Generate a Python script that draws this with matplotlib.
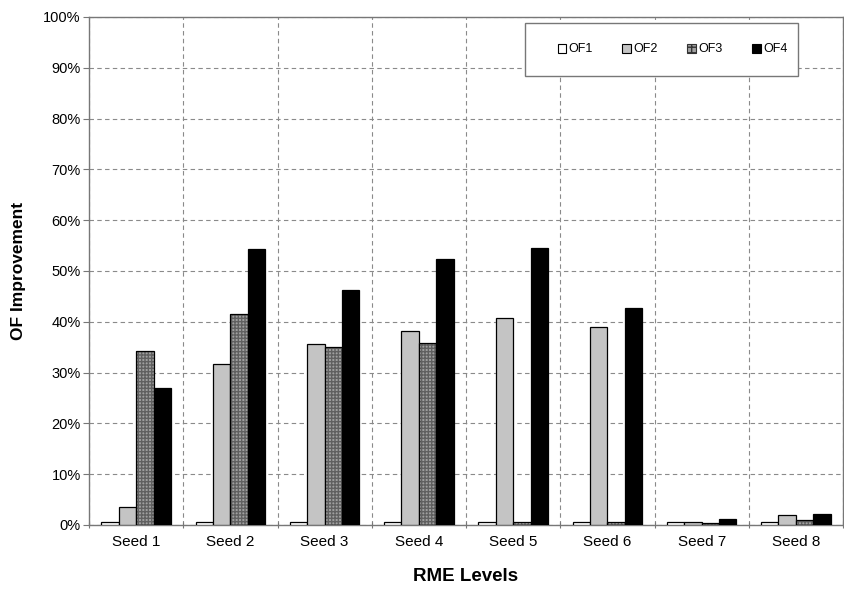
import numpy as np
import matplotlib

matplotlib.use("Agg")
import matplotlib.pyplot as plt
from matplotlib.patches import Patch, Rectangle
from matplotlib.ticker import FixedLocator, PercentFormatter

plt.rcParams["font.family"] = ["Liberation Sans", "DejaVu Sans"]

seeds = ["Seed 1", "Seed 2", "Seed 3", "Seed 4", "Seed 5", "Seed 6", "Seed 7", "Seed 8"]
of1 = [0.5, 0.5, 0.5, 0.5, 0.5, 0.5, 0.5, 0.5]
of2 = [3.5, 31.7, 35.6, 38.2, 40.7, 39.0, 0.6, 1.9]
of3 = [34.2, 41.5, 35.0, 35.8, 0.5, 0.5, 0.4, 0.9]
of4 = [27.0, 54.3, 46.3, 52.4, 54.5, 42.7, 1.1, 2.1]
series_names = ["OF1", "OF2", "OF3", "OF4"]

fig = plt.figure(figsize=(8.45, 5.92), dpi=100)
ax = fig.add_axes([89 / 845, 67 / 592, 754 / 845, 508 / 592])

x = np.arange(len(seeds))
width = 0.185
offsets = (np.arange(4) - 1.5) * width
grey = "#777777"

# OF1 white, OF2 light grey, OF3 hatched grey, OF4 black
ax.bar(x + offsets[0], of1, width, color="white", edgecolor="black", linewidth=0.9, zorder=3)
ax.bar(x + offsets[1], of2, width, color="#c4c4c4", edgecolor="black", linewidth=0.9, zorder=3)
ax.bar(x + offsets[2], of3, width, color="#a0a0a0", edgecolor="#606060", hatch="+++++",
       linewidth=0, zorder=3)
ax.bar(x + offsets[2], of3, width, color="none", edgecolor="black", linewidth=0.9, zorder=4)
ax.bar(x + offsets[3], of4, width, color="black", edgecolor="black", linewidth=0.9, zorder=3)

ax.set_xlim(-0.5, len(seeds) - 0.5)
ax.set_ylim(0, 100)
ax.yaxis.set_major_locator(FixedLocator(np.arange(0, 101, 10)))
ax.yaxis.set_major_formatter(PercentFormatter(decimals=0))

# category labels at centres, ticks and grid at the boundaries
ax.set_xticks(np.arange(len(seeds) + 1) - 0.5)
ax.set_xticklabels([])
ax.set_xticks(x, minor=True)
ax.set_xticklabels(seeds, minor=True, fontsize=11)
ax.tick_params(axis="x", which="minor", length=0, pad=7)
ax.tick_params(axis="x", which="major", length=5, color=grey, direction="inout")
ax.tick_params(axis="y", length=4, color=grey, labelsize=10.5, pad=2)

ax.grid(True, which="major", axis="both", color="#8a8a8a", linestyle=(0, (4, 3)), linewidth=0.8, zorder=0)
for s in ax.spines.values():
    s.set_color(grey)
    s.set_linewidth(1.0)

ax.set_ylabel("OF Improvement", fontsize=12.5, fontweight="bold", labelpad=12)
ax.set_xlabel("RME Levels", fontsize=13.5, fontweight="bold", labelpad=14)

# legend frame drawn separately, entries packed a bit tighter inside it
frame = Rectangle(((525 - 89) / 754, (525 - 76) / 508), (798 - 525) / 754, (76 - 23) / 508,
                  transform=ax.transAxes, facecolor="white", edgecolor=grey, linewidth=1.0, zorder=5)
ax.add_patch(frame)

handles = [
    Patch(facecolor="white", edgecolor="black", linewidth=0.8),
    Patch(facecolor="#c4c4c4", edgecolor="black", linewidth=0.8),
    Patch(facecolor="#a0a0a0", edgecolor="#333333", hatch="+++", linewidth=0.8),
    Patch(facecolor="black", edgecolor="black", linewidth=0.8),
]
leg_box = ((555 - 89) / 754, (525 - 76) / 508, (790 - 555) / 754, (76 - 23) / 508)
leg = ax.legend(handles, series_names, ncol=4, loc="center",
                bbox_to_anchor=leg_box, mode="expand", fontsize=9, frameon=False,
                handlelength=0.7, handleheight=0.7, handletextpad=0.2, columnspacing=1.0,
                borderpad=0.2, borderaxespad=0)
leg.set_zorder(6)

fig.savefig("out.png", dpi=100)
